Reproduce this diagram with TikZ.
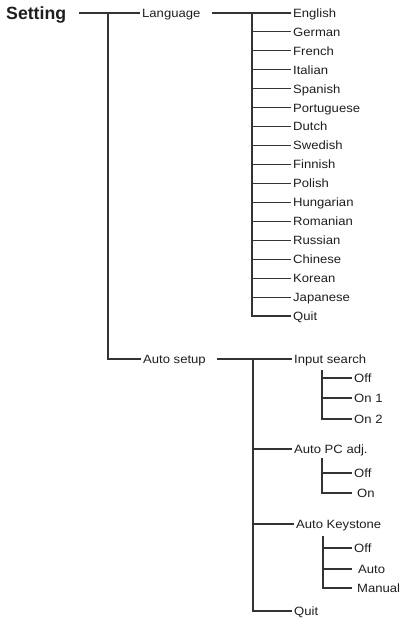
\documentclass[tikz,border=0pt]{standalone}
\usepackage{fontspec}
\setmainfont{Liberation Sans}[FakeStretch=1.09]
\newfontfamily\titlefont{Liberation Sans}
\definecolor{lc}{HTML}{333333}
\definecolor{tc}{HTML}{1E1E1E}
\begin{document}
\begin{tikzpicture}[x=1pt,y=-1pt,
  ln/.style={draw=lc, line width=1.1pt},
  lbl/.style={anchor=west, inner xsep=2pt, inner ysep=0pt, text height=8.6pt, text depth=0pt,
    font=\fontsize{12}{12}\selectfont, text=tc},
  ttl/.style={anchor=west, inner sep=0pt, text height=12.7pt, text depth=0pt,
    font=\titlefont\bfseries\fontsize{17.7}{18}\selectfont, text=tc}]
\useasboundingbox (0,0) rectangle (401,621);

% level 0 and 1
\node[ttl] (setting) at (6,13) {Setting};
\node[lbl] (language) at (140,13) {Language};
\node[lbl] (autosetup) at (141,359) {Auto setup};
\coordinate (s1) at (79,13);
\coordinate (t1) at (108,13);
\draw[ln] (s1) -- (language.west);
\draw[ln] (t1) |- (autosetup.west);

% languages
\foreach \t [count=\i from 0] in {English,German,French,Italian,Spanish,Portuguese,Dutch,Swedish,Finnish,Polish,Hungarian,Romanian,Russian,Chinese,Korean,Japanese,Quit}{
  \node[lbl] (L\i) at (291,{13+18.94*\i}) {\t};
  \coordinate (lt\i) at (252,{13+18.94*\i});
}
\coordinate (l1) at (212,13);
\draw[ln] (l1) -- (L0.west);
\draw[ln] (lt0) |- (L16.west);
\foreach \i in {1,...,15}{ \draw[ln] (lt\i) -- (L\i.west); }

% auto setup
\node[lbl] (insearch) at (292,359) {Input search};
\node[lbl] (autopc) at (292,449) {Auto PC adj.};
\node[lbl] (autokey) at (294,524) {Auto Keystone};
\node[lbl] (aquit) at (292,611) {Quit};
\coordinate (a1) at (217,359);
\coordinate (at0) at (253,359);
\coordinate (at1) at (253,449);
\coordinate (at2) at (253,524);
\draw[ln] (a1) -- (insearch.west);
\draw[ln] (at0) |- (aquit.west);
\draw[ln] (at1) -- (autopc.west);
\draw[ln] (at2) -- (autokey.west);

% input search options
\node[lbl] (is1) at (352,378) {Off};
\node[lbl] (is2) at (352,398) {On 1};
\node[lbl] (is3) at (352,419) {On 2};
\coordinate (ist) at (322,370);
\coordinate (ism) at (322,398);
\coordinate (isa) at (322,378);
\draw[ln] (ist) |- (is3.west);
\draw[ln] (isa) -- (is1.west);
\draw[ln] (ism) -- (is2.west);

% auto pc options
\node[lbl] (pc1) at (352,473) {Off};
\node[lbl] (pc2) at (355,493) {On};
\coordinate (pct) at (322,458);
\coordinate (pca) at (322,473);
\draw[ln, shorten >=3pt] (pct) |- (pc2.west);
\draw[ln] (pca) -- (pc1.west);

% auto keystone options
\node[lbl] (ak1) at (352,548) {Off};
\node[lbl] (ak2) at (356,569) {Auto};
\node[lbl] (ak3) at (355,588) {Manual};
\coordinate (akt) at (323,536);
\coordinate (aka) at (323,548);
\coordinate (akb) at (323,569);
\draw[ln, shorten >=3pt] (akt) |- (ak3.west);
\draw[ln] (aka) -- (ak1.west);
\draw[ln, shorten >=4pt] (akb) -- (ak2.west);
\end{tikzpicture}
\end{document}
